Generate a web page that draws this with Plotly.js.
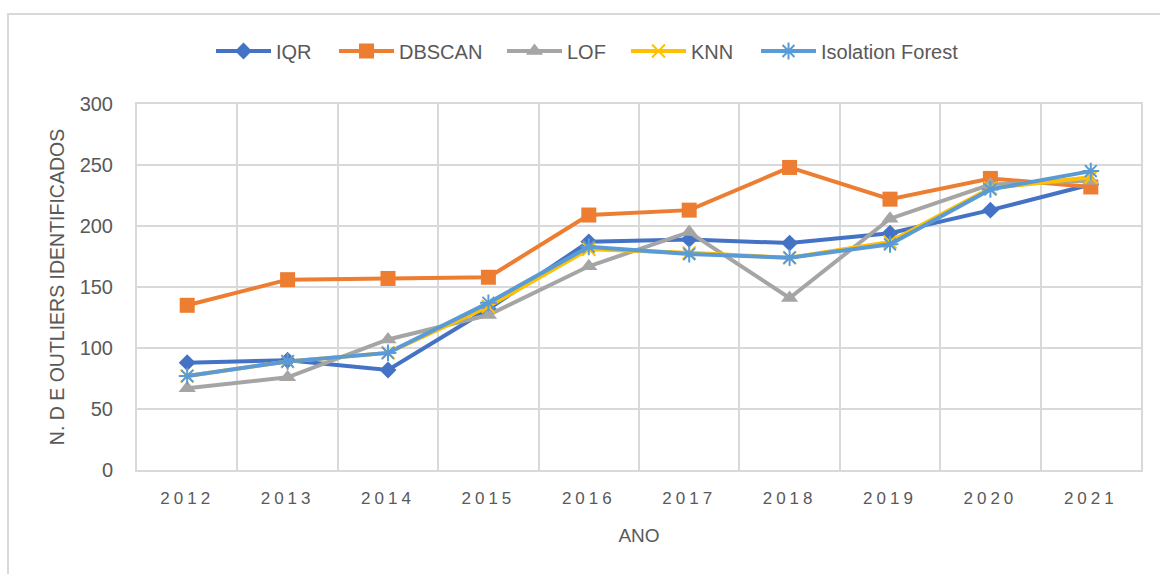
<!DOCTYPE html>
<html>
<head>
<meta charset="utf-8">
<script src="https://cdn.plot.ly/plotly-3.0.1.min.js"></script>
<style>
  html, body { margin: 0; padding: 0; background: #fff; overflow: hidden; }
  #chart { position: absolute; left: 0; top: 0; width: 1160px; height: 574px; }
  #frame { position: absolute; left: 7px; top: 13px; width: 1180px; height: 600px; border: 2px solid #d9d9d9; box-sizing: border-box; z-index: 10; pointer-events: none; background: transparent; }
  #chart .xtick text { letter-spacing: 4px; }
</style>
</head>
<body>
<div id="chart"></div>
<div id="frame"></div>
<script>
const years = ["2012", "2013", "2014", "2015", "2016", "2017", "2018", "2019", "2020", "2021"];
const iqr = [88, 90, 82, 132, 187, 189, 186, 194, 213, 234];
const dbscan = [135, 156, 157, 158, 209, 213, 248, 222, 239, 232];
const lof = [67, 76, 107, 127, 167, 195, 141, 206, 234, 237];
const knn = [77, 89, 96, 134, 181, 178, 174, 187, 231, 240];
const isoForest = [77, 89, 96, 137, 183, 177, 174, 185, 230, 245];

const seriesNames = ["IQR", "DBSCAN", "LOF", "KNN", "Isolation Forest"];
const seriesValues = [iqr, dbscan, lof, knn, isoForest];
const colors = ["#4472C4", "#ED7D31", "#A5A5A5", "#FFC000", "#5B9BD5"];
const symbols = ["diamond", "square", "triangle-up", "x-thin-open", "asterisk-open"];
const sizes = [13, 15, 15, 13, 14];
const legendIds = ["legend", "legend2", "legend3", "legend4", "legend5"];
// left position (px in page) of each legend entry's text
const legendTextStart = [276, 399, 567, 691, 821];

const plotL = 137, plotR = 1141, plotT = 104, plotB = 470;
const ITEMW = 55;

const traces = seriesNames.map((name, i) => ({
  type: "scatter",
  mode: "lines+markers",
  name: name,
  legend: legendIds[i],
  x: years,
  y: seriesValues[i],
  line: { color: colors[i], width: 4 },
  marker: { symbol: symbols[i], size: sizes[i], color: colors[i], line: { color: colors[i], width: (i >= 3 ? 2 : 0) } }
}));

const layout = {
  width: 1160,
  height: 574,
  margin: { l: plotL, r: 1160 - plotR, t: plotT, b: 574 - plotB },
  paper_bgcolor: "#ffffff",
  plot_bgcolor: "#ffffff",
  font: { family: "Liberation Sans, Arial, sans-serif", color: "#595959" },
  showlegend: true,
  xaxis: {
    type: "category",
    range: [-0.5, 9.5],
    tickson: "boundaries",
    showgrid: true,
    gridcolor: "#d9d9d9",
    gridwidth: 2,
    showline: true,
    linecolor: "#d9d9d9",
    linewidth: 2,
    mirror: true,
    ticks: "",
    ticklabelstandoff: 12,
    tickfont: { size: 17, color: "#595959" },
    title: { text: "ANO", font: { size: 19, color: "#595959" }, standoff: 21 }
  },
  yaxis: {
    range: [0, 300],
    dtick: 50,
    showgrid: true,
    gridcolor: "#d9d9d9",
    gridwidth: 2,
    zeroline: false,
    showline: true,
    linecolor: "#d9d9d9",
    linewidth: 2,
    mirror: true,
    ticks: "",
    ticklabelstandoff: 18,
    tickfont: { size: 20, color: "#595959" },
    title: { text: "N. D E OUTLIERS IDENTIFICADOS", font: { size: 19.5, color: "#595959" }, standoff: 10 }
  }
};

legendIds.forEach((id, i) => {
  layout[id] = {
    orientation: "h",
    x: (legendTextStart[i] - (ITEMW + 10) - plotL) / (plotR - plotL),
    xanchor: "left",
    y: (plotB - 51) / (plotB - plotT),
    yanchor: "middle",
    itemwidth: ITEMW,
    bgcolor: "rgba(0,0,0,0)",
    font: { size: 20, color: "#595959" }
  };
});

Plotly.newPlot("chart", traces, layout, { displayModeBar: false, staticPlot: true });
</script>
</body>
</html>
